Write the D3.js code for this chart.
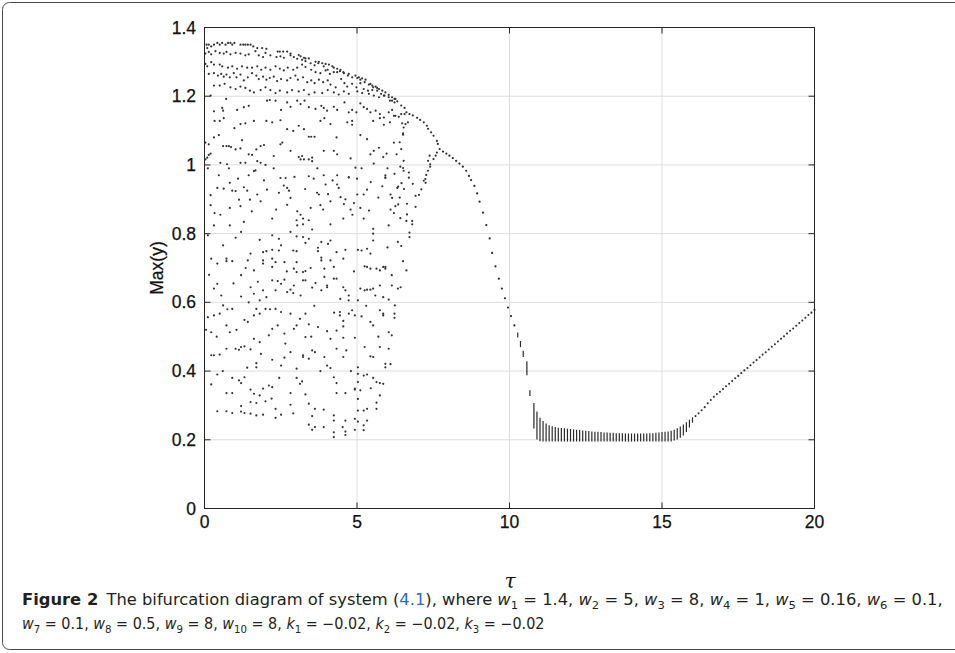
<!DOCTYPE html>
<html>
<head>
<meta charset="utf-8">
<script src="https://cdn.jsdelivr.net/npm/d3@7"></script>
<style>
  body { margin: 0; background: #fff; }
  svg { display: block; }
</style>
</head>
<body>
<svg id="chart"></svg>
<script>
// axis ticks
const xTicks = [0, 5, 10, 15, 20];
const yTicks = [0, 0.2, 0.4, 0.6, 0.8, 1, 1.2, 1.4];
const yTickLabels = ["0", "0.2", "0.4", "0.6", "0.8", "1", "1.2", "1.4"];

// chaotic region: [tau, max(y)]
const chaosPoints = [
  [0.07,1.35],[0.09,1.34],[0.14,1.35],[0.22,1.345],[0.31,1.35],[0.42,1.355],[0.50,1.35],[0.58,1.355],[0.69,1.35],[0.77,1.355],
  [0.85,1.355],[0.91,1.35],[0.98,1.355],[1.18,1.35],[1.27,1.35],[1.34,1.35],[1.42,1.35],[1.51,1.35],[1.60,1.345],[1.73,1.34],
  [1.89,1.34],[2.03,1.338],[2.40,1.33],[2.47,1.33],[2.58,1.33],[2.71,1.33],[2.82,1.324],[3.09,1.32],[3.15,1.316],[3.26,1.312],
  [3.31,1.31],[3.42,1.31],[3.64,1.30],[3.75,1.30],[3.86,1.296],[3.97,1.294],[4.08,1.292],[4.19,1.287],[4.24,1.283],[4.35,1.28],
  [4.46,1.277],[4.55,1.27],[4.73,1.265],[4.95,1.26],[5.06,1.255],[5.17,1.252],[5.28,1.248],[5.44,1.236],[5.50,1.231],[5.61,1.228],
  [5.72,1.221],[5.83,1.216],[5.93,1.211],[6.04,1.204],[6.15,1.197],[6.23,1.192],[6.32,1.185],
  [0.03,1.324],[0.14,1.329],[0.22,1.322],[0.36,1.331],[0.50,1.326],[0.63,1.324],[0.72,1.329],[0.85,1.322],[1.02,1.326],[1.18,1.324],
  [1.34,1.319],[1.45,1.322],[1.67,1.331],[1.78,1.319],[1.92,1.314],[2.00,1.326],[2.16,1.319],[2.36,1.314],[2.49,1.316],[2.60,1.312],
  [2.82,1.319],[2.93,1.314],[3.04,1.309],[3.20,1.306],[3.31,1.302],[3.48,1.296],[3.61,1.29],[3.73,1.296],[3.91,1.287],[4.04,1.277],[4.35,1.27],
  [0.03,1.294],[0.09,1.287],[0.22,1.299],[0.31,1.292],[0.50,1.292],[0.58,1.287],[0.77,1.283],[0.91,1.287],[1.07,1.28],[1.23,1.287],
  [1.40,1.283],[1.56,1.283],[1.73,1.287],[1.86,1.277],[2.00,1.283],[2.16,1.277],[2.33,1.287],[2.47,1.28],[2.60,1.275],[2.73,1.283],
  [2.91,1.277],[3.04,1.283],[3.20,1.292],[3.31,1.285],[3.50,1.277],[3.64,1.27],[3.80,1.267],[3.97,1.275],[4.11,1.265],[4.24,1.27],
  [4.44,1.273],[4.57,1.267],[4.70,1.26],[4.84,1.255],[5.01,1.253],[5.11,1.248],[5.25,1.241],[5.39,1.234],[5.53,1.226],[5.66,1.224],
  [0.14,1.265],[0.31,1.267],[0.44,1.26],[0.55,1.265],[0.63,1.257],[0.72,1.263],[0.83,1.255],[0.96,1.267],[1.05,1.255],[1.18,1.263],
  [1.29,1.246],[1.42,1.255],[1.56,1.267],[1.70,1.26],[1.78,1.25],[1.92,1.257],[2.03,1.248],[2.14,1.253],[2.27,1.257],[2.38,1.244],
  [2.51,1.25],[2.71,1.246],[2.82,1.253],[2.98,1.26],[3.06,1.248],[3.23,1.255],[3.37,1.241],[3.50,1.246],[3.61,1.238],[3.75,1.248],
  [3.89,1.241],[4.04,1.246],[4.13,1.234],[4.30,1.226],[4.48,1.25],[4.59,1.238],[4.68,1.228],[4.84,1.236],[4.98,1.226],[5.11,1.238],
  [5.22,1.221],[5.36,1.216],[5.50,1.218],[5.66,1.216],[5.79,1.207],[5.90,1.202],[6.04,1.197],[6.15,1.187],[6.26,1.192],
  [0.31,1.231],[0.50,1.231],[0.66,1.236],[0.85,1.226],[1.02,1.221],[1.18,1.228],[1.34,1.224],[1.49,1.216],[1.62,1.211],[1.84,1.218],
  [2.00,1.226],[2.16,1.218],[2.33,1.209],[2.47,1.216],[2.71,1.211],[2.87,1.218],[3.09,1.214],[3.26,1.218],[3.42,1.205],[3.61,1.211],
  [3.86,1.209],[4.04,1.218],[4.24,1.211],[4.40,1.205],[4.57,1.214],[4.73,1.207],[5.01,1.214],[5.17,1.209],[5.39,1.207],[5.55,1.202],
  [5.72,1.197],[5.88,1.202],[6.08,1.187],[6.23,1.182],
  [0.20,1.202],[0.31,1.156],[0.58,1.166],[0.61,1.158],[0.71,1.192],[1.07,1.16],[1.29,1.168],[1.45,1.172],[2.05,1.187],[2.14,1.189],
  [2.33,1.187],[2.51,1.16],[2.71,1.182],[2.82,1.169],[3.04,1.187],[3.15,1.177],[3.28,1.187],[3.42,1.168],[3.64,1.163],[3.83,1.172],
  [3.91,1.166],[4.02,1.158],[4.24,1.169],[4.35,1.16],[4.59,1.182],[4.73,1.153],[4.84,1.16],[4.98,1.153],[5.11,1.179],[5.22,1.168],
  [5.33,1.163],[5.44,1.153],[5.61,1.158],[5.75,1.148],[5.88,1.138],[6.04,1.153],[6.15,1.16],[6.26,1.143],[6.37,1.14],
  [0.33,1.128],[0.50,1.128],[0.63,1.136],[0.98,1.107],[1.18,1.119],[1.34,1.121],[1.62,1.128],[2.03,1.128],[2.22,1.124],[2.49,1.13],
  [2.71,1.104],[2.91,1.099],[3.09,1.114],[3.26,1.104],[3.42,1.082],[3.50,1.082],[3.61,1.082],[3.80,1.128],[3.93,1.136],[4.13,1.119],
  [4.33,1.08],[4.68,1.124],[4.84,1.128],[4.84,1.117],[5.11,1.087],[5.33,1.075],[5.53,1.128],[5.75,1.136],[5.88,1.117],[6.08,1.124],[6.21,1.143],
  [0.03,1.065],[0.14,1.06],[0.31,1.08],[0.47,1.087],[0.61,1.055],[0.72,1.055],[0.80,1.055],[0.87,1.052],[1.02,1.045],[1.18,1.048],
  [1.23,1.072],[1.45,1.031],[1.56,1.029],[1.70,1.045],[1.84,1.055],[1.95,1.058],[2.27,1.026],[2.49,1.06],[2.55,1.065],[2.82,1.041],
  [3.09,1.023],[3.20,1.026],[3.42,1.016],[3.53,1.021],[3.91,1.041],[4.24,1.041],[4.35,1.031],[4.79,1.019],[5.44,1.031],[5.55,1.041],
  [5.72,1.05],[5.86,1.023],[5.97,1.033],[6.21,1.065],[6.30,1.031],
  [0.03,1.016],[0.09,1.021],[0.14,1.029],[0.20,1.033],[0.52,1.006],[0.74,1.002],[1.18,1.006],[1.34,1.006],[1.73,1.011],[1.84,1.006],
  [2.00,1.00],[3.15,1.016],[3.26,1.016],[3.53,1.011],[3.91,0.97],[4.35,0.97],[4.73,0.964],[4.95,0.992],[5.55,1.004],[5.93,0.964],
  [5.93,0.97],[6.23,0.974],
  [0.20,0.912],[0.42,0.933],[0.63,0.931],[0.83,0.948],[0.91,0.925],[1.02,0.924],[1.13,0.899],[1.29,0.935],[1.40,0.925],[1.49,0.899],
  [1.62,0.982],[1.67,0.984],[1.73,0.914],[1.84,0.894],[2.05,0.928],[2.44,0.919],[2.49,0.962],[2.66,0.962],[2.71,0.933],[2.77,0.925],
  [2.82,0.904],[3.15,0.855],[3.42,0.967],[3.69,0.919],[3.75,0.914],[3.80,0.883],[3.97,0.943],[4.35,0.943],[4.40,0.933],[4.46,0.906],
  [4.57,0.886],[4.73,0.964],[4.79,0.87],[4.90,0.889],[5.01,0.914],[5.11,0.875],[5.22,0.914],[5.33,0.928],[5.39,0.867],[5.83,0.938],
  [5.93,0.962],[6.10,0.914],[6.15,0.904],[6.21,0.86],[6.26,0.88],[0.20,0.883],[0.52,0.855],[0.83,0.875],[1.18,0.88],[2.71,0.884],
  [3.04,0.865],[3.48,0.875],[3.89,0.87],[4.13,0.894],[6.32,0.933],
  [0.11,0.99],[0.47,0.97],[0.80,0.99],[1.10,0.96],[1.45,0.97],[1.95,0.955],[2.27,0.99],[2.60,0.94],[2.95,0.965],[3.30,0.93],
  [3.58,0.96],[3.70,0.99],[4.05,0.915],[4.20,0.955],[4.62,0.90],[5.00,0.96],[5.15,0.99],[5.45,0.95],[5.70,0.905],[6.00,0.99],
  [6.10,0.87],[0.33,0.86],[1.55,0.865],[2.35,0.87],[4.85,0.855],
  [0.83,0.824],[1.29,0.834],[2.22,0.844],[3.02,0.839],[3.04,0.824],[3.23,0.844],[3.23,0.827],[3.42,0.839],[4.13,0.827],[4.55,0.844],
  [5.22,0.844],[5.53,0.814],[6.04,0.824],
  [0.11,0.795],[0.31,0.824],[1.20,0.805],[1.02,0.788],[1.81,0.782],[2.22,0.795],[2.44,0.785],[2.82,0.805],[3.02,0.792],[3.23,0.79],
  [3.42,0.785],[3.53,0.812],[3.83,0.776],[4.13,0.78],[5.53,0.80],[5.53,0.78],[6.34,0.776],
  [0.22,0.727],[0.42,0.713],[0.61,0.766],[0.72,0.727],[0.72,0.72],[0.91,0.72],[1.20,0.679],[1.42,0.722],[1.51,0.742],[1.62,0.693],
  [1.92,0.746],[1.92,0.722],[1.92,0.713],[2.03,0.749],[2.22,0.753],[2.22,0.727],[2.22,0.703],[2.33,0.717],[2.44,0.751],[2.51,0.766],
  [2.62,0.717],[2.91,0.751],[2.93,0.698],[3.02,0.749],[3.02,0.717],[3.23,0.688],[3.31,0.773],[3.31,0.691],[3.72,0.759],[3.72,0.749],
  [3.83,0.73],[3.83,0.722],[3.93,0.698],[4.13,0.722],[4.24,0.703],[4.33,0.746],[4.55,0.727],[4.62,0.753],[5.03,0.753],[5.15,0.751],
  [5.25,0.705],[5.33,0.756],[5.33,0.703],[5.44,0.742],[5.44,0.698],[5.64,0.698],[5.75,0.693],[5.86,0.703],[5.93,0.703],[5.93,0.698],[6.14,0.679],
  [0.15,0.68],[0.55,0.62],[0.95,0.655],[1.35,0.70],[1.75,0.66],[2.70,0.69],[3.15,0.62],[3.48,0.70],[4.05,0.77],[4.45,0.61],
  [4.90,0.69],[5.60,0.62],[6.00,0.76],[0.75,0.58],[1.45,0.60],[2.15,0.58],[3.60,0.59],[4.25,0.57],[5.30,0.59],
  [0.31,0.64],[0.42,0.654],[1.20,0.617],[1.51,0.644],[1.62,0.625],[1.81,0.606],[1.92,0.635],[2.03,0.615],[2.22,0.664],[2.33,0.635],
  [2.40,0.662],[2.51,0.654],[2.62,0.666],[2.71,0.63],[2.82,0.637],[2.91,0.627],[2.93,0.649],[3.02,0.688],[3.23,0.664],[3.31,0.664],
  [3.53,0.643],[3.64,0.656],[3.83,0.635],[3.93,0.674],[4.02,0.649],[4.02,0.644],[4.24,0.669],[4.33,0.669],[4.55,0.644],[4.62,0.635],
  [4.73,0.62],[4.73,0.606],[5.03,0.606],[5.11,0.64],[5.25,0.635],[5.33,0.637],[5.44,0.637],[5.53,0.64],[5.75,0.649],[5.86,0.615],
  [6.04,0.608],[6.14,0.649],[6.34,0.64],[6.43,0.644],
  [0.11,0.557],[0.22,0.513],[0.31,0.562],[0.50,0.567],[0.61,0.591],[0.72,0.533],[0.83,0.513],[0.91,0.581],[1.31,0.549],[1.42,0.543],
  [1.62,0.562],[1.62,0.494],[1.70,0.581],[1.81,0.567],[2.00,0.581],[2.11,0.504],[2.22,0.523],[2.33,0.581],[2.40,0.533],[2.51,0.572],
  [2.62,0.509],[2.82,0.567],[2.93,0.523],[3.02,0.533],[3.13,0.552],[3.31,0.499],[3.31,0.567],[3.42,0.536],[3.72,0.528],[4.02,0.516],
  [4.13,0.494],[4.33,0.518],[4.44,0.572],[4.44,0.562],[4.55,0.546],[4.55,0.53],[4.55,0.497],[4.73,0.567],[4.84,0.577],[4.93,0.562],
  [4.93,0.497],[5.15,0.559],[5.44,0.543],[5.53,0.533],[5.75,0.577],[5.86,0.567],[5.86,0.562],[6.04,0.513],[6.14,0.504],[6.23,0.555],
  [6.23,0.567],[6.24,0.591],
  [0.05,0.52],[0.40,0.50],[1.05,0.52],[1.85,0.45],[2.65,0.48],[3.50,0.50],[4.65,0.46],[5.25,0.47],[5.70,0.50],[6.10,0.42],
  [0.60,0.40],[1.40,0.41],[2.45,0.38],[3.20,0.37],[3.80,0.40],[4.80,0.40],[5.45,0.35],
  [0.22,0.446],[0.31,0.446],[0.50,0.448],[0.72,0.465],[1.02,0.465],[1.13,0.462],[1.20,0.47],[1.31,0.472],[1.51,0.463],[1.70,0.423],
  [1.70,0.411],[1.81,0.484],[2.22,0.433],[2.51,0.416],[2.62,0.439],[2.82,0.455],[3.02,0.407],[3.23,0.446],[3.23,0.441],[3.42,0.436],
  [3.53,0.46],[3.62,0.455],[3.93,0.441],[4.02,0.416],[4.13,0.409],[4.33,0.465],[4.55,0.441],[5.03,0.411],[5.44,0.443],[5.53,0.441],
  [5.75,0.47],[5.93,0.421],[5.93,0.411],[6.04,0.465],
  [0.22,0.361],[0.42,0.39],[0.72,0.336],[0.91,0.336],[0.91,0.38],[1.13,0.373],[1.20,0.365],[1.31,0.382],[1.51,0.346],[1.62,0.334],
  [1.81,0.329],[1.92,0.349],[2.11,0.358],[2.22,0.353],[2.82,0.336],[3.02,0.38],[3.13,0.363],[3.31,0.332],[4.24,0.382],[4.33,0.365],
  [4.33,0.336],[4.62,0.336],[4.93,0.349],[4.93,0.346],[5.03,0.392],[5.03,0.368],[5.11,0.344],[5.22,0.387],[5.33,0.39],[5.53,0.38],
  [5.64,0.368],[5.75,0.365],[5.86,0.363],[5.75,0.329],
  [0.42,0.283],[0.72,0.283],[0.91,0.278],[1.20,0.298],[1.20,0.282],[1.31,0.278],[1.51,0.276],[1.70,0.271],[1.92,0.273],[2.33,0.29],
  [2.33,0.264],[2.51,0.273],[2.82,0.302],[2.91,0.277],[3.42,0.305],[3.53,0.269],[3.62,0.29],[3.91,0.288],[3.42,0.244],[3.53,0.229],
  [3.62,0.237],[3.91,0.237],[4.24,0.271],[4.24,0.256],[4.24,0.222],[4.24,0.208],[4.53,0.237],[4.62,0.256],[4.62,0.224],[4.62,0.214],
  [4.93,0.261],[4.93,0.229],[5.03,0.319],[5.03,0.285],[5.03,0.253],[5.22,0.285],[5.22,0.242],[5.22,0.228],[5.33,0.29],[5.33,0.256],
  [5.64,0.308],[5.64,0.29],[1.51,0.31],[1.70,0.307],[2.00,0.312],[2.20,0.32]
];

// edge of the chaotic band and the fork near tau = 7.6
const forkPoints = [
  [6.72,1.148],[6.83,1.144],[6.97,1.137],[7.07,1.131],[7.19,1.124],[7.29,1.114],[7.33,1.105],[7.43,1.095],[7.51,1.085],[7.62,1.07],
  [7.65,1.061],[7.71,1.046],
  [7.62,1.036],[7.58,1.027],[7.51,1.017],[7.38,1.027],[7.33,1.012],[7.40,1.002],[7.40,0.995],[7.33,0.983],[7.27,0.971],[7.24,0.959],
  [7.19,0.954],[7.11,0.929],[7.03,0.913],[6.92,0.91],[6.92,0.878],[6.81,0.837],[6.81,0.827],[6.72,0.803],[6.72,0.79],[6.62,0.837],
  [6.64,0.856],[6.64,0.887],[6.70,0.978],[6.70,0.963],[6.51,0.991],[6.53,1.012],[6.53,0.983],[6.42,0.995],[6.83,0.945],[7.25,0.948],
  [6.51,1.092],[6.51,1.088],[6.53,1.109],[6.40,1.066],[6.45,1.046],[6.42,0.845],[6.45,0.764],[6.51,0.72],[6.62,0.693],[6.56,1.166],
  [6.45,1.173],[6.45,1.148],[6.56,1.148],[6.62,1.153],[6.48,1.121],[6.59,1.119],[6.67,1.124],[6.40,0.905],
  [6.35,0.937],[6.46,0.947],[6.54,0.93],[6.35,0.885]
];

// single periodic branch after the fork
const periodicTau = [7.82,7.93,8.03,8.14,8.25,8.36,8.47,8.58,8.67,8.74,8.85,8.94,9.02,9.13,9.24,9.35,9.43,9.54,9.65,9.75,9.85,9.95,10.05,10.16];
const periodicMax = [1.039,1.033,1.027,1.02,1.012,1.004,0.995,0.983,0.968,0.956,0.939,0.917,0.893,0.861,0.825,0.786,0.744,0.705,0.669,0.64,0.612,0.585,0.56,0.533];

// dense columns (many maxima per tau) in the floor region
const bandTau = [10.27,10.36,10.45,10.57,10.67,10.8,10.9,11.0,11.1,11.2,11.3,11.4,11.5,11.6,11.7,11.8,11.9,12.0,12.1,12.2,
  12.3,12.4,12.5,12.6,12.7,12.8,12.9,13.0,13.1,13.2,13.3,13.4,13.5,13.6,13.7,13.8,13.9,14.0,14.1,14.2,
  14.3,14.4,14.5,14.6,14.7,14.8,14.9,15.0,15.1,15.2,15.3,15.4,15.5,15.6,15.7,15.8,15.9,16.0];
const bandHigh = [0.51,0.485,0.457,0.426,0.342,0.305,0.28,0.262,0.252,0.245,0.240,0.237,0.235,0.233,0.232,0.231,0.230,0.229,0.228,0.227,
  0.226,0.225,0.224,0.223,0.222,0.221,0.221,0.220,0.219,0.219,0.218,0.218,0.217,0.217,0.217,0.216,0.216,0.216,0.216,0.216,
  0.216,0.216,0.216,0.217,0.217,0.218,0.219,0.220,0.221,0.222,0.224,0.227,0.231,0.236,0.242,0.249,0.256,0.263];
const bandLow = [0.5,0.472,0.443,0.39,0.33,0.235,0.203,0.198,0.197,0.197,0.197,0.197,0.197,0.197,0.197,0.197,0.197,0.197,0.197,0.197,
  0.197,0.197,0.197,0.197,0.197,0.197,0.197,0.197,0.197,0.197,0.197,0.197,0.197,0.197,0.197,0.197,0.197,0.197,0.197,0.197,
  0.197,0.197,0.197,0.197,0.197,0.197,0.197,0.197,0.197,0.197,0.197,0.2,0.203,0.208,0.215,0.225,0.238,0.252];

// rising period-1 branch
const risingTau = [16.1,16.2,16.3,16.4,16.5,16.6,16.7,16.8,16.9,17.0,17.1,17.2,17.3,17.4,17.5,17.6,17.7,17.8,17.9,18.0,
  18.1,18.2,18.3,18.4,18.5,18.6,18.7,18.8,18.9,19.0,19.1,19.2,19.3,19.4,19.5,19.6,19.7,19.8,19.9,20.0];
const risingMax = [0.269,0.277,0.286,0.295,0.306,0.316,0.325,0.333,0.340,0.348,0.356,0.363,0.371,0.379,0.386,0.394,0.402,0.409,0.417,0.425,
  0.432,0.440,0.448,0.455,0.463,0.471,0.478,0.486,0.494,0.501,0.509,0.517,0.524,0.532,0.540,0.547,0.555,0.563,0.570,0.578];

const captionLine1 = [
  {t: "Figure 2", b: true}, {t: "\u2002The bifurcation diagram of system ("}, {t: "4.1", c: "#2b6cc4"}, {t: "), where "},
  {t: "w", i: true}, {t: "1", s: true}, {t: " = 1.4, "}, {t: "w", i: true}, {t: "2", s: true}, {t: " = 5, "},
  {t: "w", i: true}, {t: "3", s: true}, {t: " = 8, "}, {t: "w", i: true}, {t: "4", s: true}, {t: " = 1, "},
  {t: "w", i: true}, {t: "5", s: true}, {t: " = 0.16, "}, {t: "w", i: true}, {t: "6", s: true}, {t: " = 0.1,"}
];
const captionLine2 = [
  {t: "w", i: true}, {t: "7", s: true}, {t: " = 0.1, "}, {t: "w", i: true}, {t: "8", s: true}, {t: " = 0.5, "},
  {t: "w", i: true}, {t: "9", s: true}, {t: " = 8, "}, {t: "w", i: true}, {t: "10", s: true}, {t: " = 8, "},
  {t: "k", i: true}, {t: "1", s: true}, {t: " = \u22120.02, "}, {t: "k", i: true}, {t: "2", s: true}, {t: " = \u22120.02, "},
  {t: "k", i: true}, {t: "3", s: true}, {t: " = \u22120.02"}
];

const width = 955;
const height = 653;
const axisColor = "#262626";

const svg = d3.select("#chart")
    .attr("width", width)
    .attr("height", height);

// outer frame of the figure
svg.append("rect")
    .attr("x", 2.5)
    .attr("y", 2.5)
    .attr("width", 1000)
    .attr("height", 647)
    .attr("rx", 7)
    .attr("fill", "none")
    .attr("stroke", "#4a4a4a")
    .attr("stroke-width", 1);

const x = d3.scaleLinear().domain([0, 20]).range([204.5, 814.5]);
const y = d3.scaleLinear().domain([0, 1.4]).range([508.5, 27.5]);

// grid
svg.append("g")
    .selectAll("line")
    .data(xTicks.slice(1, -1))
    .join("line")
    .attr("x1", d => x(d)).attr("x2", d => x(d))
    .attr("y1", y(0)).attr("y2", y(1.4))
    .attr("stroke", "#dedede")
    .attr("stroke-width", 1);

svg.append("g")
    .selectAll("line")
    .data(yTicks.slice(1, -1))
    .join("line")
    .attr("x1", x(0)).attr("x2", x(20))
    .attr("y1", d => y(d)).attr("y2", d => y(d))
    .attr("stroke", "#dedede")
    .attr("stroke-width", 1);

// markers
const marks = svg.append("g");

marks.append("g")
    .selectAll("circle")
    .data(chaosPoints.concat(forkPoints))
    .join("circle")
    .attr("cx", d => x(d[0]))
    .attr("cy", d => y(d[1]))
    .attr("r", 1.1)
    .attr("fill", "#333");

marks.append("g")
    .selectAll("circle")
    .data(periodicTau)
    .join("circle")
    .attr("cx", d => x(d))
    .attr("cy", (d, i) => y(periodicMax[i]))
    .attr("r", 1.1)
    .attr("fill", "#2a2a2a");

marks.append("g")
    .selectAll("line")
    .data(bandTau)
    .join("line")
    .attr("x1", d => x(d)).attr("x2", d => x(d))
    .attr("y1", (d, i) => y(bandLow[i]) + 0.8)
    .attr("y2", (d, i) => y(bandHigh[i]) - 0.8)
    .attr("stroke", "#2a2a2a")
    .attr("stroke-width", 1.2);

marks.append("g")
    .selectAll("circle")
    .data(risingTau)
    .join("circle")
    .attr("cx", d => x(d))
    .attr("cy", (d, i) => y(risingMax[i]))
    .attr("r", 1.05)
    .attr("fill", "#333");

// box and ticks (matlab style)
const box = svg.append("g")
    .attr("stroke", axisColor)
    .attr("fill", "none")
    .attr("stroke-width", 1);

box.append("rect")
    .attr("x", x(0)).attr("y", y(1.4))
    .attr("width", x(20) - x(0))
    .attr("height", y(0) - y(1.4));

xTicks.forEach(t => {
    box.append("line").attr("x1", x(t)).attr("x2", x(t)).attr("y1", y(0)).attr("y2", y(0) - 6);
    box.append("line").attr("x1", x(t)).attr("x2", x(t)).attr("y1", y(1.4)).attr("y2", y(1.4) + 6);
});
yTicks.forEach(t => {
    box.append("line").attr("x1", x(0)).attr("x2", x(0) + 6).attr("y1", y(t)).attr("y2", y(t));
    box.append("line").attr("x1", x(20)).attr("x2", x(20) - 6).attr("y1", y(t)).attr("y2", y(t));
});

const labelFont = "Arial, 'Liberation Sans', Helvetica, sans-serif";

svg.append("g")
    .selectAll("text")
    .data(xTicks)
    .join("text")
    .attr("x", d => x(d))
    .attr("y", 528)
    .attr("text-anchor", "middle")
    .attr("font-family", labelFont)
    .attr("font-size", 17.5)
    .attr("fill", "#111")
    .attr("stroke", "#111")
    .attr("stroke-width", 0.25)
    .text(d => d);

svg.append("g")
    .selectAll("text")
    .data(yTicks)
    .join("text")
    .attr("x", 196)
    .attr("y", d => y(d) + 6)
    .attr("text-anchor", "end")
    .attr("font-family", labelFont)
    .attr("font-size", 17.5)
    .attr("fill", "#111")
    .attr("stroke", "#111")
    .attr("stroke-width", 0.25)
    .text((d, i) => yTickLabels[i]);

svg.append("text")
    .attr("transform", "translate(163,268) rotate(-90)")
    .attr("text-anchor", "middle")
    .attr("font-family", labelFont)
    .attr("font-size", 17.5)
    .attr("fill", "#111")
    .attr("stroke", "#111")
    .attr("stroke-width", 0.25)
    .text("Max(y)");

svg.append("text")
    .attr("x", 510)
    .attr("y", 588)
    .attr("text-anchor", "middle")
    .attr("font-family", "'DejaVu Serif', 'Liberation Serif', serif")
    .attr("font-style", "italic")
    .attr("font-size", 20)
    .attr("fill", "#111")
    .text("\u03c4");

// caption
function captionLine(parts, baseY, targetWidth) {
    const x0 = 22;
    const txt = svg.append("text")
        .attr("x", x0)
        .attr("y", baseY)
        .attr("font-family", "'Liberation Sans Narrow', 'DejaVu Sans Condensed', 'Liberation Sans', sans-serif")
        .attr("font-size", 15.5)
        .attr("fill", "#231f20");
    let shifted = false;
    parts.forEach(p => {
        const ts = txt.append("tspan").text(p.t);
        if (p.b) ts.attr("font-weight", "bold");
        if (p.i) ts.attr("font-style", "italic");
        if (p.c) ts.attr("fill", p.c);
        if (p.s) {
            ts.attr("font-size", 11).attr("dy", 4);
            shifted = true;
        } else if (shifted) {
            ts.attr("dy", -4);
            shifted = false;
        }
    });
    const w = txt.node().getComputedTextLength();
    const k = targetWidth / w;
    txt.attr("transform", `translate(${x0},0) scale(${k},1) translate(${-x0},0)`);
}

captionLine(captionLine1, 605, 921);
captionLine(captionLine2, 629, 523);
</script>
</body>
</html>
